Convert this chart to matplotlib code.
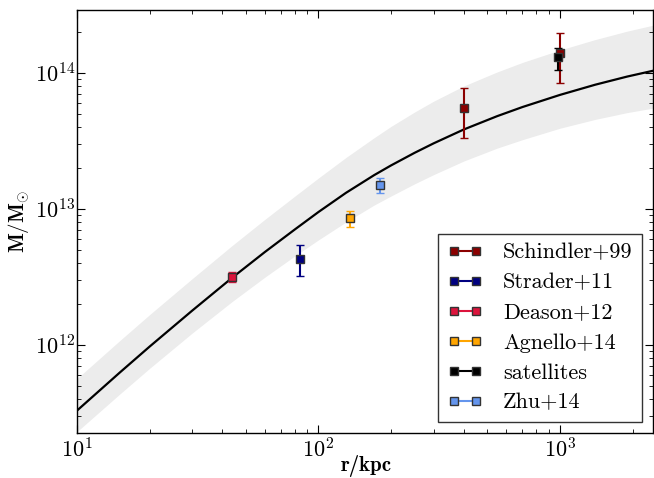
import matplotlib
matplotlib.use("Agg")
import matplotlib.pyplot as plt
from matplotlib.lines import Line2D
import numpy as np

# ---- model curve and band (log10 M) ----
r_model = [10, 15, 20, 30, 44, 60, 80, 100, 130, 170, 200, 250, 300, 400,
           550, 700, 1000, 1400, 1900, 2450]
logM_model = [11.517, 11.795, 11.988, 12.252, 12.495, 12.683, 12.850, 12.977,
              13.118, 13.248, 13.320, 13.412, 13.482, 13.584, 13.682, 13.749,
              13.838, 13.913, 13.973, 14.017]
logM_upper = [11.752, 12.030, 12.223, 12.487, 12.732, 12.923, 13.095, 13.227,
              13.378, 13.523, 13.607, 13.712, 13.792, 13.904, 14.007, 14.077,
              14.168, 14.245, 14.307, 14.352]
logM_lower = [11.362, 11.637, 11.828, 12.087, 12.320, 12.498, 12.655, 12.772,
              12.903, 13.028, 13.095, 13.184, 13.252, 13.352, 13.447, 13.509,
              13.593, 13.658, 13.708, 13.742]

# ---- measurements ----
labels = ["Schindler+99", "Strader+11", "Deason+12", "Agnello+14", "satellites", "Zhu+14"]
colors = ["#8B0000", "#000080", "#DC143C", "#FFA500", "#000000", "#6495ED"]
r_data = [[399, 1000], [84], [44], [135], [984], [180]]
m_data = [[5.5e13, 1.41e14], [4.26e12], [3.16e12], [8.55e12], [1.30e14], [1.50e13]]
m_lo = [[3.3e13, 8.4e13], [3.2e12], [2.9e12], [7.4e12], [1.05e14], [1.30e13]]
m_hi = [[7.7e13, 1.98e14], [5.4e12], [3.45e12], [9.7e12], [1.53e14], [1.70e13]]

plt.rcParams["font.family"] = "cmr10"
plt.rcParams["mathtext.fontset"] = "cm"
plt.rcParams["axes.formatter.use_mathtext"] = True

fig = plt.figure(figsize=(6.54, 4.78), dpi=100)
ax = fig.add_axes([77/654, 1-433/478, (653-77)/654, (433-10)/478])

r_m = np.array(r_model)
ax.fill_between(r_m, 10**np.array(logM_lower), 10**np.array(logM_upper),
                color="#ececec", lw=0, zorder=1)
ax.plot(r_m, 10**np.array(logM_model), color="black", lw=1.6, zorder=2)

handles = []
for lab, c, rr, mm, lo, hi in zip(labels, colors, r_data, m_data, m_lo, m_hi):
    mm = np.array(mm); lo = np.array(lo); hi = np.array(hi)
    yerr = np.vstack([mm - lo, hi - mm])
    ax.errorbar(rr, mm, yerr=yerr, fmt="s", color=c, ecolor=c, elinewidth=1.5,
                capsize=3.2, capthick=1.2, ms=5.5, mfc=c, mec="#333333", mew=1.0,
                zorder=3)
    handles.append(Line2D([0], [0], color=c, lw=1.5, marker="s", ms=5.5,
                          mfc=c, mec="#333333", mew=1.0))

ax.set_xscale("log")
ax.set_yscale("log")
ax.set_xlim(10, 2430)
ax.set_ylim(2.25e11, 2.9e14)

ax.tick_params(which="both", direction="in", top=True, right=True)
ax.tick_params(which="major", length=6, width=0.8, labelsize=16)
ax.tick_params(which="minor", length=3, width=0.6)
ax.tick_params(axis="x", pad=3)
ax.tick_params(axis="y", pad=1.5)
for s in ax.spines.values():
    s.set_linewidth(1.0)

ax.set_xlabel("r/kpc", fontname="cmb10", fontsize=15)
ax.xaxis.set_label_coords((366-77)/576, -0.052)
ax.set_ylabel(r"$\mathbf{M/M}_{\odot}$", fontsize=15, labelpad=2)

leg = ax.legend(handles, labels, loc="lower right", numpoints=2, fontsize=16,
                frameon=True, fancybox=False, edgecolor="black",
                handlelength=1.6, handletextpad=0.9, labelspacing=0.47,
                borderaxespad=0.5, borderpad=0.42)
leg.get_frame().set_linewidth(1.0)

fig.savefig("out.png", dpi=100)
